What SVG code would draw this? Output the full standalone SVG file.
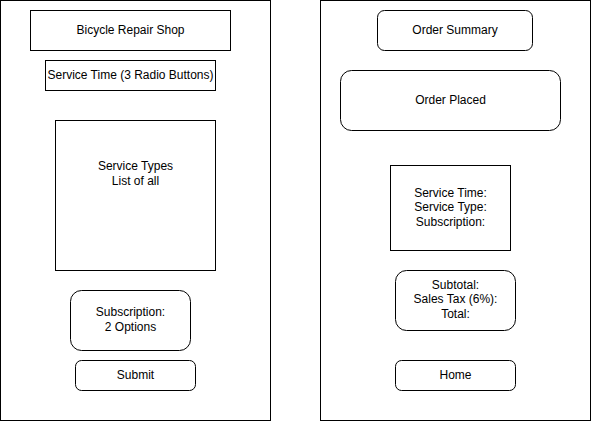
<svg xmlns="http://www.w3.org/2000/svg" width="591" height="421" viewBox="0 0 591 421">
<style>
rect{fill:#fff;stroke:#000;stroke-width:1}
text{font-family:"Liberation Sans",Arial,sans-serif;font-size:12px;fill:#000;text-anchor:middle}
</style>
<rect x="0" y="0" width="591" height="421" style="stroke:none"/>
<g id="left-screen"><rect x="0.5" y="0.5" width="270" height="420"/></g>
<g id="right-screen"><rect x="320.5" y="0.5" width="270" height="420"/></g>
<g id="title"><rect x="30.5" y="10.5" width="200" height="40"/><text x="130.5" y="33.5">Bicycle Repair Shop</text></g>
<g id="service-time"><rect x="45.5" y="60.5" width="170" height="30"/><text x="130.5" y="78.5">Service Time (3 Radio Buttons)</text></g>
<g id="service-types"><rect x="55.5" y="120.5" width="160" height="150"/><text x="135.5" y="169.5">Service Types</text><text x="135.5" y="184.5">List of all</text></g>
<g id="subscription"><rect x="70.5" y="290.5" width="120" height="60" rx="11" ry="11"/><text x="130.5" y="315.5">Subscription:</text><text x="130.5" y="330.5">2 Options</text></g>
<g id="submit"><rect x="75.5" y="360.5" width="120" height="30" rx="6" ry="6"/><text x="135.5" y="378.5">Submit</text></g>
<g id="order-summary"><rect x="377.5" y="10.5" width="155" height="40" rx="7" ry="7"/><text x="455" y="33.5">Order Summary</text></g>
<g id="order-placed"><rect x="340.5" y="70.5" width="220" height="60" rx="11" ry="11"/><text x="450.5" y="103.5">Order Placed</text></g>
<g id="details"><rect x="390.5" y="165.5" width="120" height="85"/><text x="450.5" y="196.5">Service Time:</text><text x="450.5" y="210.5">Service Type:</text><text x="450.5" y="225.5">Subscription:</text></g>
<g id="totals"><rect x="395.5" y="270.5" width="120" height="60" rx="11" ry="11"/><text x="455.5" y="288.5">Subtotal:</text><text x="455.5" y="302.5">Sales Tax (6%):</text><text x="455.5" y="317.5">Total:</text></g>
<g id="home"><rect x="395.5" y="360.5" width="120" height="30" rx="6" ry="6"/><text x="455.5" y="378.5">Home</text></g>
<g id="connectors"></g>
</svg>
